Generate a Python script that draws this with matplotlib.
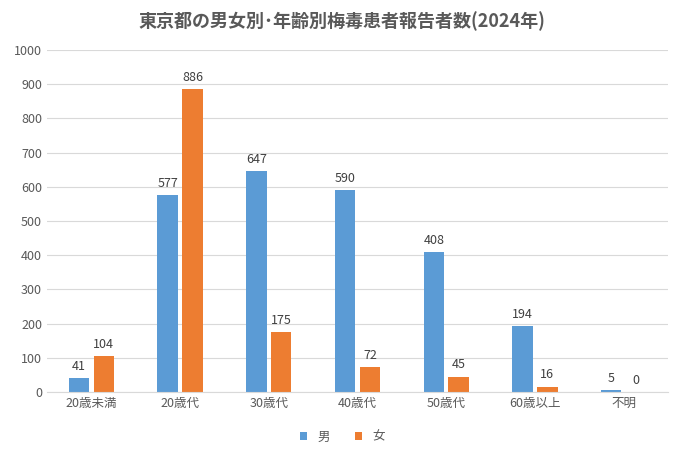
import matplotlib
matplotlib.use("Agg")
import matplotlib.pyplot as plt
import numpy as np

categories = ["20歳未満", "20歳代", "30歳代", "40歳代", "50歳代", "60歳以上", "不明"]
male = [41, 577, 647, 590, 408, 194, 5]
female = [104, 886, 175, 72, 45, 16, 0]
series_names = ["男", "女"]

plt.rcParams["font.family"] = "Noto Sans CJK JP"
fig = plt.figure(figsize=(6.84, 4.55), dpi=100)
ax = fig.add_axes([47/684, 63/455, 621/684, 342/455])
x = np.arange(len(categories))
w = 0.23
b1 = ax.bar(x - 0.14, male, w, color="#5B9BD5", label=series_names[0])
b2 = ax.bar(x + 0.14, female, w, color="#ED7D31", label=series_names[1])
for bars in (b1, b2):
    for r in bars:
        ax.text(r.get_x() + r.get_width()/2, r.get_height() + 15, f"{int(r.get_height())}",
                ha="center", va="bottom", fontsize=9, color="#404040")
ax.set_ylim(0, 1000)
ax.set_yticks(range(0, 1001, 100))
ax.set_xlim(-0.5, len(categories) - 0.5)
ax.set_xticks(x)
ax.set_xticklabels(categories)
ax.tick_params(length=0, labelsize=9, colors="#595959")
ax.grid(axis="y", color="#D9D9D9", linewidth=0.8)
ax.set_axisbelow(True)
for s in ["top", "right", "left"]:
    ax.spines[s].set_visible(False)
ax.spines["bottom"].set_color("#D9D9D9")
fig.suptitle("東京都の男女別･年齢別梅毒患者報告者数(2024年)", y=0.975, fontsize=13,
             fontweight="bold", color="#595959")
fig.legend(loc="lower center", bbox_to_anchor=(0.5, 0.0), ncol=2, frameon=False,
           fontsize=9, handlelength=0.6, handleheight=0.6, labelcolor="#595959")
fig.savefig("out.png", dpi=100)
